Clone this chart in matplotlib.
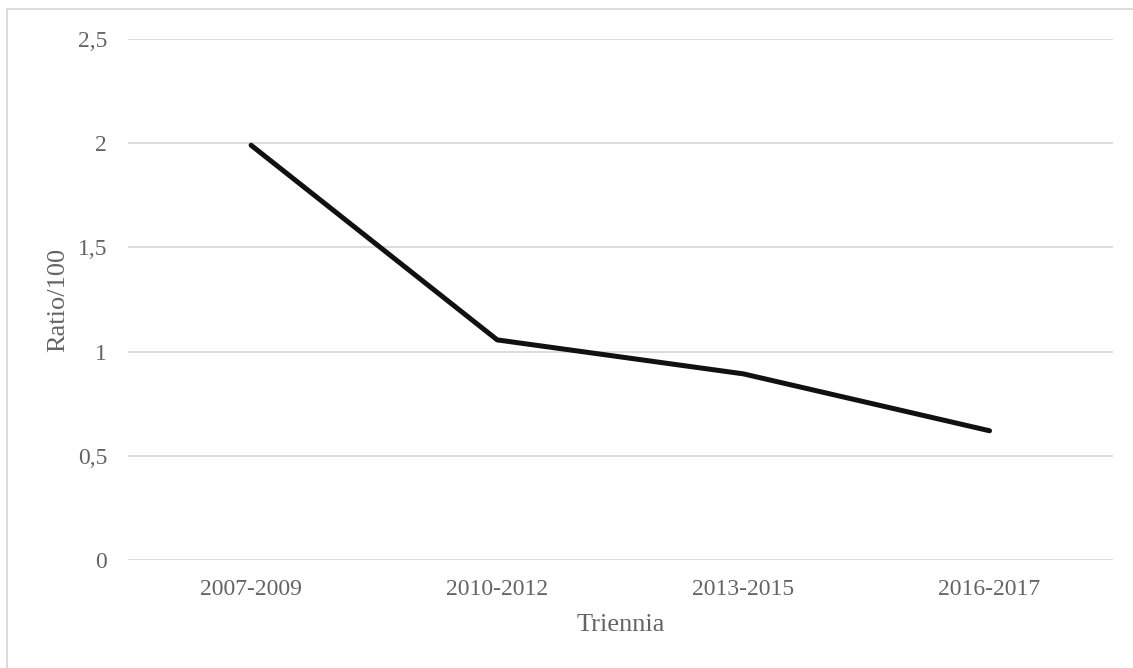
import matplotlib
matplotlib.use('Agg')
import matplotlib.pyplot as plt
from matplotlib.patches import Rectangle
from matplotlib.ticker import FuncFormatter

# dati
triennia = ['2007-2009', '2010-2012', '2013-2015', '2016-2017']
ratio = [1.99, 1.056, 0.893, 0.62]
yticks = [0, 0.5, 1, 1.5, 2, 2.5]

plt.rcParams['font.family'] = ['Liberation Serif', 'DejaVu Serif']
grey = '#646464'

fig = plt.figure(figsize=(11.33, 6.68), dpi=100)
ax = fig.add_axes([0.113, 0.1617, 0.869, 0.78])

x = range(len(triennia))
ax.plot(x, ratio, color='#111111', lw=3.6, solid_capstyle='round', solid_joinstyle='round', zorder=3)

ax.set_xlim(-0.5, len(triennia) - 0.5)
ax.set_ylim(0, 2.5)
ax.set_xticks(list(x))
ax.set_xticklabels(triennia)
ax.set_yticks(yticks)
ax.yaxis.set_major_formatter(FuncFormatter(lambda v, p: ('%g' % v).replace('.', ',')))

ax.grid(axis='y', color='#d9d9d9', lw=1.3)
ax.set_axisbelow(True)
for s in ax.spines.values():
    s.set_visible(False)
ax.tick_params(length=0, labelsize=17, labelcolor=grey)
ax.tick_params(axis='x', pad=14)
ax.tick_params(axis='y', pad=15)

ax.set_xlabel('Triennia', fontsize=19, color=grey, labelpad=10)
ax.set_ylabel('Ratio/100', fontsize=19, color=grey, labelpad=6)

# bordo del grafico (solo sinistra e sopra visibili)
fig.add_artist(Rectangle((7 / 1133, -0.05), 1.1, (659 / 668) + 0.05, transform=fig.transFigure,
                         fill=False, edgecolor='#d9d9d9', lw=1.3))

fig.savefig('out.png', dpi=100)
